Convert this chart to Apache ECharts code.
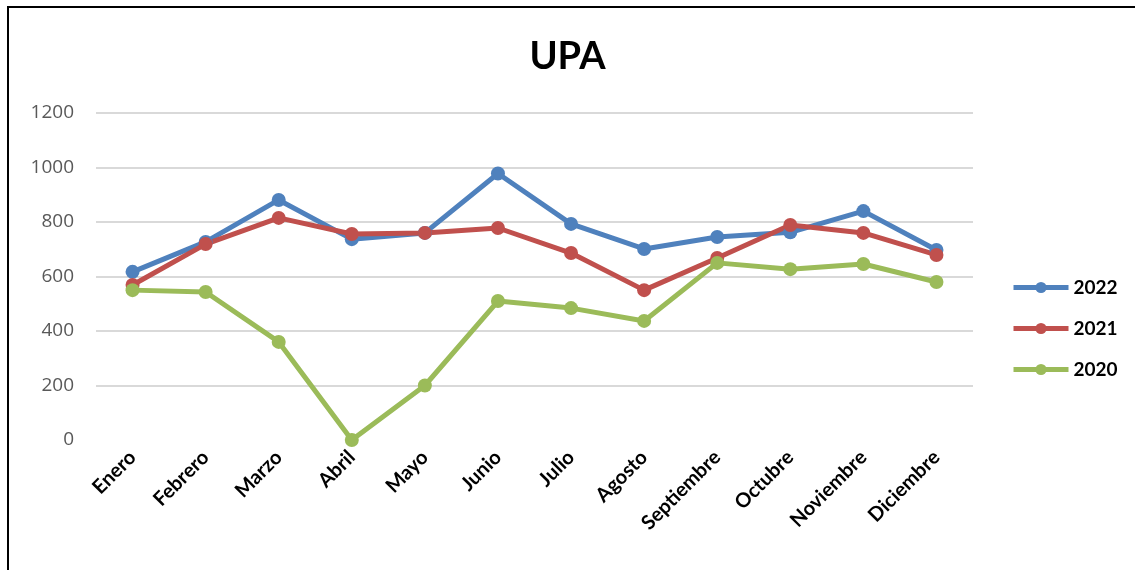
<!DOCTYPE html>
<html>
<head>
<meta charset="utf-8">
<script src="https://cdn.jsdelivr.net/npm/echarts@6/dist/echarts.min.js"></script>
<style>
  html, body { margin: 0; padding: 0; background: #fff; }
  #echart { width: 1135px; height: 570px; }
</style>
</head>
<body>
<div id="echart"></div>
<script>
var dom = document.getElementById("echart");
var myChart = echarts.init(dom);

let months = ['Enero', 'Febrero', 'Marzo', 'Abril', 'Mayo', 'Junio', 'Julio', 'Agosto', 'Septiembre', 'Octubre', 'Noviembre', 'Diciembre'];
let data2022 = [617, 727, 881, 737, 760, 978, 793, 701, 745, 762, 840, 697];
let data2021 = [569, 719, 815, 756, 760, 778, 686, 550, 668, 789, 760, 679];
let data2020 = [550, 543, 360, 0, 200, 510, 484, 437, 650, 627, 646, 580];

function lineSeries(name, color, values) {
    return {
        name: name,
        type: 'line',
        data: values,
        symbol: 'circle',
        symbolSize: 14,
        lineStyle: { width: 5, color: color },
        itemStyle: { color: color },
        animation: false
    };
}

var option = {
    backgroundColor: '#fff',
    title: {
        text: 'UPA',
        left: 'center',
        top: 33,
        textStyle: { fontFamily: 'Lato', fontWeight: 'bold', fontSize: 38, color: '#000' }
    },
    graphic: [{
        type: 'rect',
        shape: { x: 8, y: 7, width: 1140, height: 600 },
        style: { fill: 'none', stroke: '#000', lineWidth: 2 },
        silent: true
    }],
    legend: {
        orient: 'vertical',
        left: 1006,
        top: 273,
        itemWidth: 55,
        itemHeight: 14,
        itemGap: 22,
        lineStyle: { width: 5 },
        textStyle: { fontFamily: 'Lato', fontWeight: 'bold', fontSize: 19, color: '#000' },
        data: ['2022', '2021', '2020']
    },
    grid: {
        left: 96,
        right: 162,
        top: 113,
        bottom: 130
    },
    xAxis: {
        type: 'category',
        data: months,
        boundaryGap: true,
        axisLine: { show: false },
        axisTick: { show: false },
        axisLabel: {
            rotate: 45,
            interval: 0,
            margin: 14,
            fontFamily: 'Lato',
            fontWeight: 'bold',
            fontSize: 20,
            color: '#000'
        }
    },
    yAxis: {
        type: 'value',
        min: 0,
        max: 1200,
        interval: 200,
        axisLine: { show: false },
        axisTick: { show: false },
        axisLabel: {
            margin: 22,
            fontFamily: 'Open Sans',
            fontSize: 19,
            color: '#595959',
            formatter: function (v) { return String(v); }
        },
        splitLine: {
            showMinLine: false,
            lineStyle: { color: '#d9d9d9', width: 2 }
        }
    },
    series: [
        lineSeries('2022', '#4F81BD', data2022),
        lineSeries('2021', '#C0504D', data2021),
        lineSeries('2020', '#9BBB59', data2020)
    ]
};

myChart.setOption(option);
</script>
</body>
</html>
